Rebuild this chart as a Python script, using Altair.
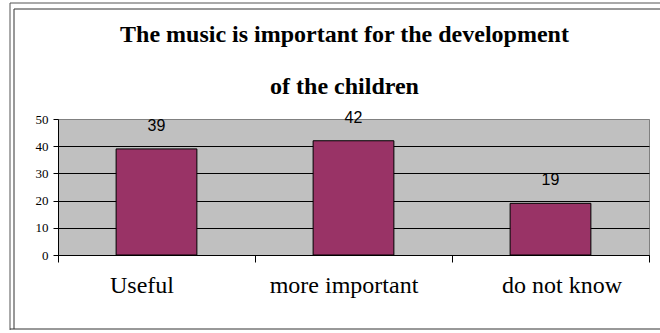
import altair as alt
import pandas as pd

categories = ["Useful", "more important", "do not know"]
values = [39, 42, 19]
y_ticks = [0, 10, 20, 30, 40, 50]
title_lines = ["The music is important for the development", "of the children"]

df = pd.DataFrame({"category": categories, "value": values})
one = pd.DataFrame({"a": [0]})

x_enc = alt.X(
    "category:N",
    sort=categories,
    scale=alt.Scale(paddingInner=0, paddingOuter=0),
    axis=alt.Axis(
        title=None,
        labelAngle=0,
        labelFont="Liberation Serif",
        labelFontSize=24,
        labelColor="black",
        labelPadding=11,
        labelOffset={
            "condition": [
                {"test": "datum.value === 'Useful'", "value": -15},
                {"test": "datum.value === 'do not know'", "value": 11},
            ],
            "value": -10,
        },
        tickBand="extent",
        tickSize=7,
        tickColor="black",
        domainColor="black",
        grid=False,
    ),
)
y_enc = alt.Y(
    "value:Q",
    scale=alt.Scale(domain=[0, 50], nice=False),
    axis=alt.Axis(
        title=None,
        values=y_ticks,
        labelOverlap=False,
        labelFont="Liberation Serif",
        labelFontSize=13,
        labelColor="black",
        labelPadding=5,
        tickSize=5,
        tickColor="black",
        domainColor="black",
        grid=True,
        gridColor={
            "condition": {"test": "datum.value === 50", "value": "#808080"},
            "value": "black",
        },
        gridOpacity=1,
    ),
)

bars = alt.Chart(df).mark_bar(
    color="#993366", stroke="black", strokeWidth=1,
    width=alt.RelativeBandSize(0.41)
).encode(x=x_enc, y=y_enc)

labels = alt.Chart(df).mark_text(
    font="Liberation Sans", fontSize=16, color="black",
    baseline="bottom", dy=-15
).encode(x=x_enc, y=y_enc, text="value:Q")

frame_outer = "#555555"
frame_inner = "#333333"
r1 = alt.Chart(one).mark_rule(color=frame_outer).encode(
    x=alt.value(-48), x2=alt.value(602), y=alt.value(-116))
r2 = alt.Chart(one).mark_rule(color=frame_inner).encode(
    x=alt.value(-44), x2=alt.value(602), y=alt.value(-110))
r3 = alt.Chart(one).mark_rule(color=frame_outer).encode(
    x=alt.value(-48), y=alt.value(-116), y2=alt.value(211))
r4 = alt.Chart(one).mark_rule(color=frame_inner).encode(
    x=alt.value(-44), y=alt.value(-110), y2=alt.value(210))
r5 = alt.Chart(one).mark_rule(color=frame_inner).encode(
    x=alt.value(-48), x2=alt.value(602), y=alt.value(210))

chart = alt.layer(bars, labels, r1, r2, r3, r4, r5).properties(
    width=591,
    height=136,
    autosize="none",
    padding={"left": 58, "top": 119, "right": 11, "bottom": 78},
    title=alt.Title(
        text=title_lines,
        font="Liberation Serif",
        fontSize=24,
        fontWeight="bold",
        color="black",
        lineHeight=52,
        anchor="middle",
        dx=-9,
        offset=-96,
    ),
    background="white",
).configure_view(fill="#C0C0C0", stroke="#808080", strokeWidth=1)

chart.save("out.html", embed_options={"renderer": "svg", "actions": False})
